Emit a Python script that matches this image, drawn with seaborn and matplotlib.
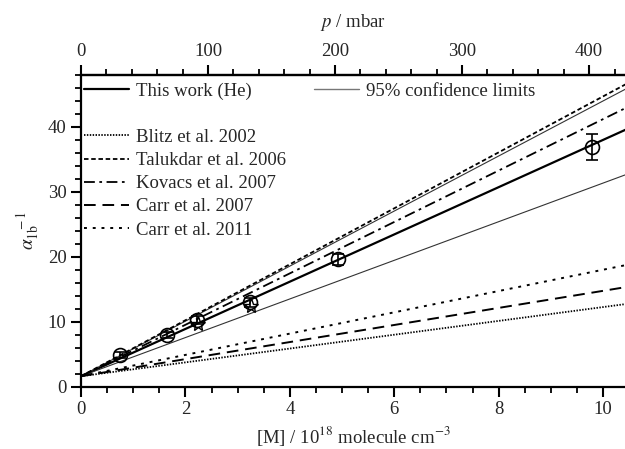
import numpy as np
import pandas as pd
import matplotlib
matplotlib.use('Agg')
import matplotlib.pyplot as plt
import seaborn as sns
from matplotlib.ticker import MultipleLocator, FixedLocator

# data
x_data = [0.75, 1.65, 2.22, 3.23, 4.93, 9.79]      # [M] / 1e18
y_data = [4.9, 7.95, 10.3, 13.0, 19.6, 36.9]       # alpha_1b^-1
y_err = [0.5, 0.5, 0.6, 0.7, 0.9, 2.0]

x_star = [2.25, 3.25]
y_star = [9.7, 12.4]

intercept = 1.6
fit_names = ['This work (He)', '95% upper', '95% lower']
fit_slopes = [3.64, 4.24, 2.975]

lit_names = ['Blitz et al. 2002', 'Talukdar et al. 2006', 'Kovacs et al. 2007',
             'Carr et al. 2007', 'Carr et al. 2011']
lit_slopes = [1.065, 4.31, 3.96, 1.315, 1.64]

p_ticks = [0, 100, 200, 300, 400]
mbar_per_M = 41.1   # 100 mbar ~ 2.43e18 molecule cm-3

sns.set_theme(style='ticks')
plt.rcParams['font.family'] = ['Liberation Serif', 'DejaVu Serif']
plt.rcParams['mathtext.fontset'] = 'stix'

FS = 13.5

fig = plt.figure(figsize=(6.25, 4.49), dpi=100)
ax = fig.add_axes([0.1296, 0.139, 0.8704, 0.694])

xs = [0, 10.45]
rows = []
for name, s in zip(fit_names + lit_names, fit_slopes + lit_slopes):
    for x in xs:
        rows.append({'x': x, 'y': intercept + s * x, 'line': name})
lines = pd.DataFrame(rows)

styles = {
    'This work (He)': dict(color='black', lw=1.6, ls='-'),
    '95% upper': dict(color='#333333', lw=0.8, ls='-'),
    '95% lower': dict(color='#333333', lw=0.8, ls='-'),
    'Blitz et al. 2002': dict(color='black', lw=1.3, ls=(0, (0.8, 0.8))),
    'Talukdar et al. 2006': dict(color='black', lw=1.3, ls=(0, (2.5, 1.5))),
    'Kovacs et al. 2007': dict(color='black', lw=1.3, ls=(0, (6, 2.5, 1.5, 2.5))),
    'Carr et al. 2007': dict(color='black', lw=1.4, ls=(0, (6, 3.5))),
    'Carr et al. 2011': dict(color='black', lw=1.4, ls=(0, (1.5, 3))),
}
handles = {}
for name, sub in lines.groupby('line', sort=False):
    st = styles[name]
    sns.lineplot(data=sub, x='x', y='y', ax=ax, color=st['color'],
                 linewidth=st['lw'], linestyle=st['ls'])
    handles[name] = ax.lines[-1]

ax.errorbar(x_data, y_data, yerr=y_err, fmt='o', mfc='none', mec='black',
            ms=10, mew=1.2, ecolor='black', elinewidth=1.2, capsize=4,
            capthick=1.2, zorder=5)
ax.plot(x_star, y_star, '*', mfc='none', mec='black', ms=11, mew=1.0, zorder=5)

ax.set_xlim(0, 10.42)
ax.set_ylim(0, 48)
ax.xaxis.set_major_locator(MultipleLocator(2))
ax.xaxis.set_minor_locator(MultipleLocator(0.5))
ax.yaxis.set_major_locator(MultipleLocator(10))
ax.yaxis.set_minor_locator(MultipleLocator(2))
ax.tick_params(which='major', length=7, width=1.5, labelsize=FS, color='black')
ax.tick_params(which='minor', length=4, width=1.3, color='black')
for side in ['left', 'bottom', 'top']:
    ax.spines[side].set_linewidth(1.6)
    ax.spines[side].set_color('black')
ax.spines['right'].set_visible(False)

ax.set_xlabel(r'[M] / 10$^{18}$ molecule cm$^{-3}$', fontsize=FS, labelpad=4)
ax.set_ylabel(r'$\alpha_{\rm 1b}^{\ \ -1}$', fontsize=14, labelpad=4)

top = ax.secondary_xaxis('top', functions=(lambda m: m * mbar_per_M,
                                           lambda p: p / mbar_per_M))
top.xaxis.set_major_locator(FixedLocator(p_ticks))
top.xaxis.set_minor_locator(FixedLocator(list(range(0, 421, 20))))
top.tick_params(which='major', length=7, width=1.5, labelsize=FS, color='black')
top.tick_params(which='minor', length=4, width=1.3, color='black')
top.spines['top'].set_linewidth(1.6)
top.set_xlabel(r'$p$ / mbar', fontsize=FS, labelpad=12)

conf_handle = plt.Line2D([], [], color='#777777', lw=1.0)
leg1 = ax.legend([handles['This work (He)'], conf_handle],
                 ['This work (He)', '95% confidence limits'], ncol=2,
                 loc='upper left', bbox_to_anchor=(0.005, 0.975), frameon=False,
                 fontsize=FS, handlelength=2.4, handletextpad=0.4,
                 columnspacing=3.3, borderpad=0, borderaxespad=0)
ax.add_artist(leg1)
ax.legend([handles[n] for n in lit_names], lit_names, loc='upper left',
          bbox_to_anchor=(0.005, 0.827), frameon=False, fontsize=FS,
          handlelength=2.4, handletextpad=0.4, labelspacing=0.32,
          borderpad=0, borderaxespad=0)

fig.savefig('out.png', dpi=100)
